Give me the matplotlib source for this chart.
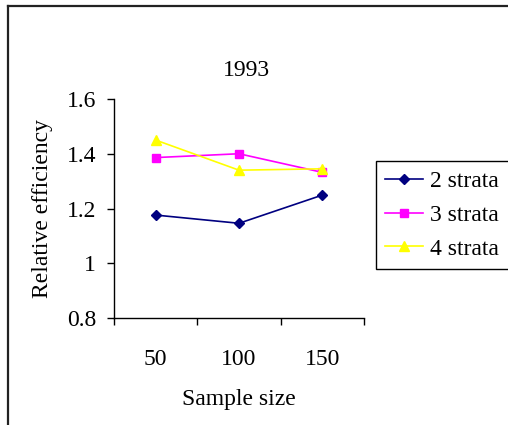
import matplotlib
matplotlib.use("Agg")
import matplotlib.pyplot as plt
from matplotlib.lines import Line2D

# Data
sample_sizes = ["50", "100", "150"]
strata_2 = [1.176, 1.146, 1.249]
strata_3 = [1.386, 1.400, 1.332]
strata_4 = [1.450, 1.340, 1.345]
series_labels = ["2 strata", "3 strata", "4 strata"]
y_ticks = [0.8, 1.0, 1.2, 1.4, 1.6]
y_tick_labels = ["0.8", "1", "1.2", "1.4", "1.6"]

plt.rcParams["font.family"] = ["Liberation Serif", "DejaVu Serif"]
FS = 17

W, H = 508, 425
fig = plt.figure(figsize=(W / 100, H / 100), dpi=100)
ax = fig.add_axes([114 / W, 1 - 318 / H, (364 - 114) / W, (318 - 99) / H])

x = range(len(sample_sizes))
ax.plot(x, strata_2, color="#000080", marker="D", markersize=5.0, lw=1.2,
        label=series_labels[0])
ax.plot(x, strata_3, color="#FF00FF", marker="s", markersize=6.0, lw=1.2,
        label=series_labels[1])
ax.plot(x, strata_4, color="#FFFF00", marker="^", markersize=7.5, lw=1.2,
        label=series_labels[2])

ax.set_xlim(-0.5, len(sample_sizes) - 0.5)
ax.set_ylim(0.8, 1.6)
ax.set_yticks(y_ticks)
ax.set_yticklabels(y_tick_labels, fontsize=FS)
ax.set_xticks(x)
ax.set_xticklabels(sample_sizes, fontsize=FS)
ax.tick_params(axis="x", length=0, pad=22)
ax.set_xticks([-0.5, 0.5, 1.5, 2.5], minor=True)
ax.tick_params(axis="x", which="minor", length=5, width=1, direction="out")
ax.tick_params(axis="y", length=5, width=1, direction="out", pad=8)

for side in ("top", "right"):
    ax.spines[side].set_visible(False)
for side in ("left", "bottom"):
    ax.spines[side].set_linewidth(1)

fig.text(246 / W, 1 - 70 / H, "1993", ha="center", va="center", fontsize=FS)
fig.text(239 / W, 1 - 400 / H, "Sample size", ha="center", va="center", fontsize=FS)
fig.text(43 / W, 1 - 208 / H, "Relative efficiency", ha="center", va="center",
         rotation=90, fontsize=FS)

leg = fig.legend(loc="upper left", bbox_to_anchor=(376 / W, 1 - 161 / H),
                 bbox_transform=fig.transFigure, fontsize=FS, frameon=True,
                 fancybox=False, edgecolor="black", framealpha=1,
                 handlelength=1.6, handletextpad=0.3, borderpad=0.4,
                 labelspacing=0.52, borderaxespad=0)
leg.get_frame().set_linewidth(1)

# Outer border lines (top and left)
fig.add_artist(Line2D([7.5 / W, 7.5 / W], [0, 1 - 5.5 / H], transform=fig.transFigure,
                      color="#222222", lw=1.6))
fig.add_artist(Line2D([7.5 / W, 1], [1 - 5.5 / H, 1 - 5.5 / H], transform=fig.transFigure,
                      color="#222222", lw=1.6))

fig.savefig("out.png", dpi=100)
